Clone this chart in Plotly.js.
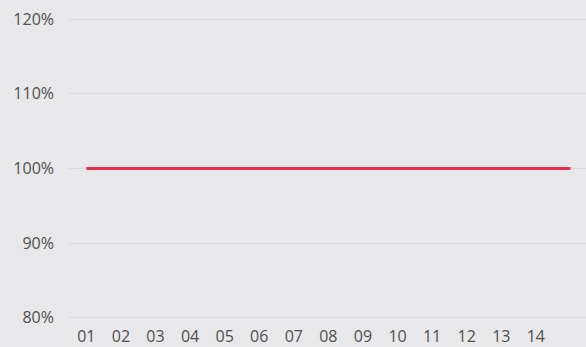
<!DOCTYPE html>
<html>
<head>
<meta charset="utf-8">
<script src="https://cdn.plot.ly/plotly-3.0.1.min.js"></script>
<style>html,body{margin:0;padding:0;background:#e8e8ea;}#chart{width:586px;height:347px;}</style>
</head>
<body>
<div id="chart"></div>
<script>
const periods = ["01","02","03","04","05","06","07","08","09","10","11","12","13","14","15"];
const values = [1,1,1,1,1,1,1,1,1,1,1,1,1,1,1];
const tickLabels = ["01","02","03","04","05","06","07","08","09","10","11","12","13","14"];
const yTicks = [0.8,0.9,1.0,1.1,1.2];

const xIdx = periods.map((_, i) => i);
Plotly.newPlot('chart', [{
  x: xIdx, y: values, type: 'scatter', mode: 'lines',
  line: {color: '#e5304b', width: 3}, hoverinfo: 'skip'
}], {
  width: 586, height: 347,
  margin: {l: 69, r: 0, t: 17, b: 27},
  paper_bgcolor: '#e8e8ea', plot_bgcolor: '#e8e8ea',
  showlegend: false,
  font: {family: 'Open Sans, sans-serif', size: 16, color: '#4f4f4f'},
  xaxis: {
    range: [-0.5, 14.45], showgrid: false, zeroline: false, showline: false,
    tickvals: tickLabels.map((_, i) => i), ticktext: tickLabels,
    ticks: '', ticklabelstandoff: 5, fixedrange: true
  },
  yaxis: {
    range: [0.797, 1.203], tickvals: yTicks, tickformat: '.0%',
    showgrid: true, gridcolor: '#dcd9dd', gridwidth: 1,
    zeroline: false, showline: false, ticks: '', ticklabelstandoff: 14, fixedrange: true
  }
}, {displayModeBar: false, staticPlot: true});
</script>
</body>
</html>
